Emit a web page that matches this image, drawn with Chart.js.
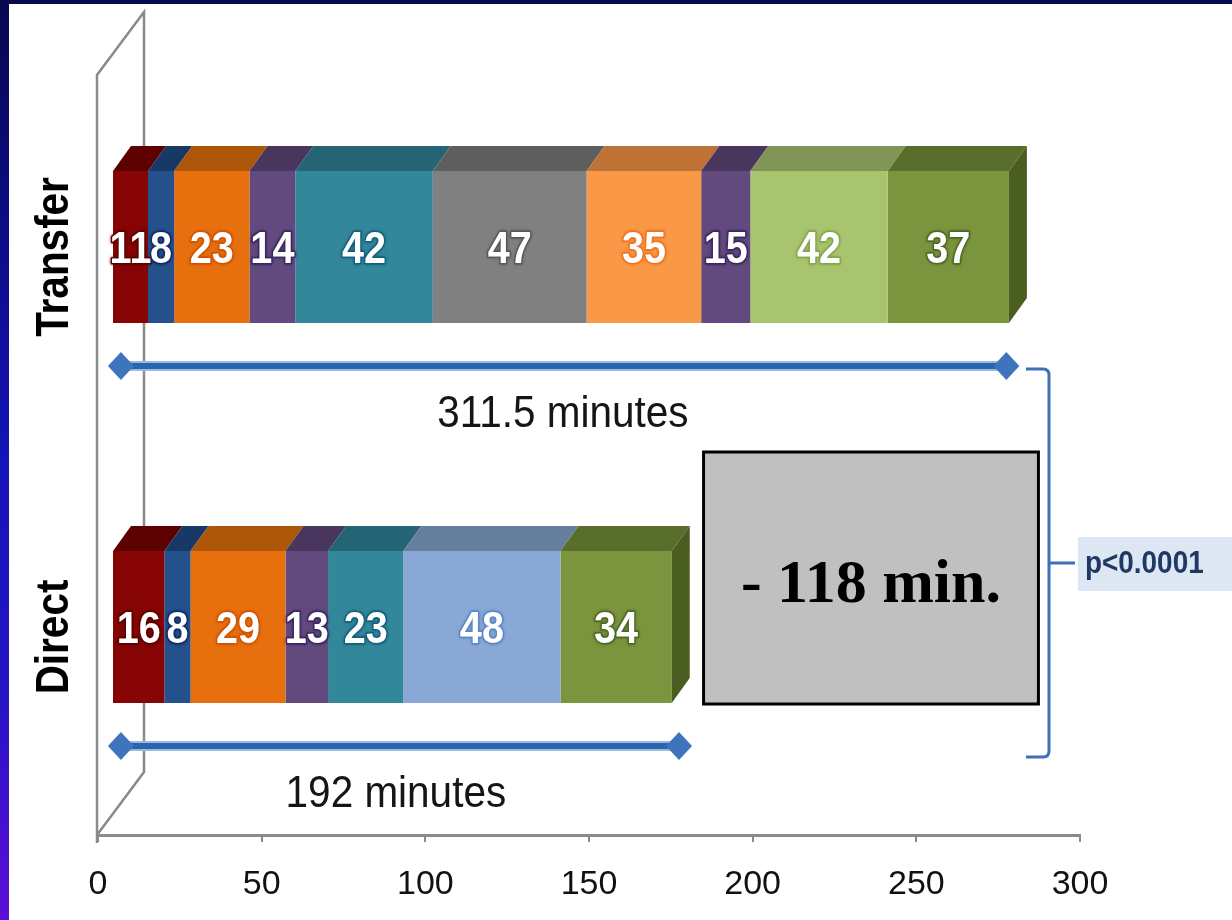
<!DOCTYPE html>
<html>
<head>
<meta charset="utf-8">
<script src="https://cdn.jsdelivr.net/npm/chart.js@4"></script>
<style>
html, body { margin: 0; padding: 0; background: #ffffff; }
canvas { display: block; }
</style>
</head>
<body>
<canvas id="c" width="1232" height="920"></canvas>
<script>
// Door-to-treatment time per stage (minutes)
const categories = ['Transfer', 'Direct'];
const transferMinutes = [11, 8, 23, 14, 42, 47, 35, 15, 42, 37];
const directMinutes = [16, 8, 29, 13, 23, 48, 34];
const transferStageColors = ['red', 'navy', 'orange', 'purple', 'teal', 'gray', 'peach', 'purple', 'lime', 'olive'];
const directStageColors = ['red', 'navy', 'orange', 'purple', 'teal', 'sky', 'olive'];
const xTickValues = [0, 50, 100, 150, 200, 250, 300];
const totalLabels = ['311.5 minutes', '192 minutes'];
const totalArrowSpans = [[7, 277.5], [7, 177.5]];
const differenceLabel = '- 118 min.';
const pValueLabel = 'p<0.0001';

// front / top / side / halo shades for each stage colour
const palette = {
  red:    { front: '#860404', top: '#5c0000', side: '#4a0000', halo: '#5a0000' },
  navy:   { front: '#24508c', top: '#183966', side: '#122c50', halo: '#0c2c6a' },
  orange: { front: '#e76f0e', top: '#ad5608', side: '#8a4506', halo: '#d05400' },
  purple: { front: '#634a7e', top: '#48365e', side: '#3a2b4c', halo: '#3a2660' },
  teal:   { front: '#32879b', top: '#246474', side: '#1c4f5c', halo: '#14607a' },
  gray:   { front: '#808080', top: '#5e5e5e', side: '#4a4a4a', halo: '#585858' },
  peach:  { front: '#f99846', top: '#bf7236', side: '#9a5c2c', halo: '#ee7420' },
  lime:   { front: '#a8c46e', top: '#819556', side: '#687844', halo: '#86a64a' },
  olive:  { front: '#7a953d', top: '#5a6e2c', side: '#4b5e22', halo: '#4e6824' },
  sky:    { front: '#89a8d6', top: '#677f9f', side: '#536884', halo: '#5a86c8' }
};

const BAR_SHIFT = { x: 14, y: -18 };   // bars sit slightly inside the 3D wall
const DEPTH = { x: 18, y: -25 };       // depth of each bar block
const WALL = { x: 47, y: -63 };        // depth of the side wall
const SANS = '"Liberation Sans", Arial, sans-serif';
const SERIF = '"Liberation Serif", "Times New Roman", serif';

const stageCount = Math.max(transferMinutes.length, directMinutes.length);
const seriesByCategory = [transferMinutes, directMinutes];
const colorsByCategory = [transferStageColors, directStageColors];

const datasets = [];
for (let i = 0; i < stageCount; i++) {
  datasets.push({
    label: 'Stage ' + (i + 1),
    data: seriesByCategory.map(s => (i < s.length ? s[i] : null)),
    backgroundColor: colorsByCategory.map(c => (i < c.length ? palette[c[i]].front : 'transparent')),
    stageKeys: colorsByCategory.map(c => c[i]),
    borderWidth: 0,
    clip: false
  });
}

function condensedText(ctx, text, x, y, sx, rotation, halo) {
  ctx.save();
  ctx.translate(x, y);
  if (rotation) ctx.rotate(rotation);
  ctx.scale(sx, 1);
  if (halo) {
    ctx.save();
    ctx.strokeStyle = halo;
    ctx.lineWidth = 3;
    ctx.lineJoin = 'round';
    ctx.shadowColor = halo;
    ctx.shadowBlur = 3;
    ctx.strokeText(text, 0, 0);
    ctx.restore();
  }
  ctx.fillText(text, 0, 0);
  ctx.restore();
}

const framePlugin = {
  id: 'frame',
  beforeDraw(chart) {
    const ctx = chart.ctx;
    ctx.save();
    ctx.fillStyle = '#ffffff';
    ctx.fillRect(0, 0, chart.width, chart.height);
    ctx.fillStyle = '#070a4c';
    ctx.fillRect(0, 0, chart.width, 4);
    const g = ctx.createLinearGradient(0, 0, 0, chart.height);
    g.addColorStop(0, '#08084e');
    g.addColorStop(0.25, '#0c0c86');
    g.addColorStop(0.5, '#1414b8');
    g.addColorStop(0.75, '#2414c4');
    g.addColorStop(1, '#5c0ed6');
    ctx.fillStyle = g;
    ctx.fillRect(0, 0, 9, chart.height);
    ctx.restore();
  }
};

const bars3dPlugin = {
  id: 'bars3d',
  beforeDatasetsDraw(chart) {
    const ctx = chart.ctx;
    const a = chart.chartArea;
    // side wall of the 3D plot
    ctx.save();
    ctx.strokeStyle = '#8a8a8a';
    ctx.lineWidth = 2.5;
    ctx.beginPath();
    ctx.moveTo(a.left - 1, a.bottom + 8);
    ctx.lineTo(a.left - 1, a.top);
    ctx.lineTo(a.left - 1 + WALL.x, a.top + WALL.y);
    ctx.lineTo(a.left - 1 + WALL.x, a.bottom + WALL.y);
    ctx.lineTo(a.left - 1, a.bottom);
    ctx.stroke();
    ctx.restore();
    ctx.save();
    ctx.translate(BAR_SHIFT.x, BAR_SHIFT.y);
  },
  afterDatasetsDraw(chart) {
    const ctx = chart.ctx;
    const metas = chart.getSortedVisibleDatasetMetas();
    // last visible segment per category gets the right-hand face
    const lastIdx = categories.map((_, ci) => {
      let last = -1;
      chart.data.datasets.forEach((ds, di) => { if (ds.data[ci] != null) last = di; });
      return last;
    });
    metas.forEach(meta => {
      const ds = chart.data.datasets[meta.index];
      meta.data.forEach((el, ci) => {
        if (ds.data[ci] == null) return;
        const p = el.getProps(['x', 'y', 'base', 'height'], true);
        const col = palette[ds.stageKeys[ci]];
        const top = p.y - p.height / 2, bottom = p.y + p.height / 2;
        const x0 = Math.min(p.base, p.x), x1 = Math.max(p.base, p.x);
        ctx.fillStyle = col.top;
        ctx.beginPath();
        ctx.moveTo(x0, top);
        ctx.lineTo(x1, top);
        ctx.lineTo(x1 + DEPTH.x, top + DEPTH.y);
        ctx.lineTo(x0 + DEPTH.x, top + DEPTH.y);
        ctx.closePath();
        ctx.fill();
        if (meta.index === lastIdx[ci]) {
          ctx.fillStyle = col.side;
          ctx.beginPath();
          ctx.moveTo(x1, top);
          ctx.lineTo(x1 + DEPTH.x, top + DEPTH.y);
          ctx.lineTo(x1 + DEPTH.x, bottom + DEPTH.y);
          ctx.lineTo(x1, bottom);
          ctx.closePath();
          ctx.fill();
        }
      });
    });
    // value labels
    ctx.font = 'bold 45px ' + SANS;
    ctx.textAlign = 'center';
    ctx.textBaseline = 'middle';
    metas.forEach(meta => {
      const ds = chart.data.datasets[meta.index];
      meta.data.forEach((el, ci) => {
        const v = ds.data[ci];
        if (v == null) return;
        const p = el.getProps(['x', 'y', 'base'], true);
        const col = palette[ds.stageKeys[ci]];
        ctx.fillStyle = '#ffffff';
        condensedText(ctx, String(v), (p.base + p.x) / 2, p.y + 4, 0.88, 0, col.halo);
      });
    });
    ctx.restore();
  }
};

function drawArrow(ctx, x0, x1, y) {
  ctx.save();
  ctx.lineCap = 'butt';
  ctx.strokeStyle = '#9db8df';
  ctx.lineWidth = 10;
  ctx.beginPath(); ctx.moveTo(x0, y); ctx.lineTo(x1, y); ctx.stroke();
  ctx.strokeStyle = '#2a63b0';
  ctx.lineWidth = 6;
  ctx.beginPath(); ctx.moveTo(x0, y); ctx.lineTo(x1, y); ctx.stroke();
  ctx.fillStyle = '#3d74bd';
  [x0, x1].forEach(x => {
    ctx.beginPath();
    ctx.moveTo(x - 13, y);
    ctx.lineTo(x, y - 14);
    ctx.lineTo(x + 13, y);
    ctx.lineTo(x, y + 14);
    ctx.closePath();
    ctx.fill();
  });
  ctx.restore();
}

const annotationPlugin = {
  id: 'annotations',
  afterDraw(chart) {
    const ctx = chart.ctx;
    const xs = chart.scales.x, ys = chart.scales.y;
    // category labels along the wall
    ctx.save();
    ctx.fillStyle = '#000000';
    ctx.font = 'bold 46px ' + SANS;
    ctx.textAlign = 'center';
    ctx.textBaseline = 'middle';
    categories.forEach((c, i) => {
      condensedText(ctx, c, 55, ys.getPixelForValue(i) - 8, 0.88, -Math.PI / 2);
    });
    ctx.restore();

    // total duration arrows and captions
    const captionX = [142, 91];
    categories.forEach((c, i) => {
      const yc = ys.getPixelForValue(i);
      drawArrow(ctx, xs.getPixelForValue(totalArrowSpans[i][0]), xs.getPixelForValue(totalArrowSpans[i][1]), yc + 101);
      ctx.save();
      ctx.fillStyle = '#151515';
      ctx.font = '44px ' + SANS;
      ctx.textAlign = 'center';
      ctx.textBaseline = 'middle';
      condensedText(ctx, totalLabels[i], xs.getPixelForValue(captionX[i]), yc + 150, 0.92);
      ctx.restore();
    });

    // difference box
    const bx0 = xs.getPixelForValue(185), bx1 = xs.getPixelForValue(287.3);
    const by0 = 452, by1 = 704;
    ctx.save();
    ctx.fillStyle = '#c0c0c0';
    ctx.fillRect(bx0, by0, bx1 - bx0, by1 - by0);
    ctx.strokeStyle = '#000000';
    ctx.lineWidth = 3;
    ctx.strokeRect(bx0, by0, bx1 - bx0, by1 - by0);
    ctx.fillStyle = '#000000';
    ctx.font = 'bold 62px ' + SERIF;
    ctx.textAlign = 'center';
    ctx.textBaseline = 'alphabetic';
    ctx.fillText(differenceLabel, (bx0 + bx1) / 2, 602);
    ctx.restore();

    // bracket linking the two totals
    const t = ys.getPixelForValue(0) + 104, b = ys.getPixelForValue(1) + 112, bx = 1049;
    ctx.save();
    ctx.strokeStyle = '#3f6fb6';
    ctx.lineWidth = 3;
    ctx.beginPath();
    ctx.moveTo(1026, t);
    ctx.lineTo(bx - 6, t);
    ctx.quadraticCurveTo(bx, t, bx, t + 6);
    ctx.lineTo(bx, b - 6);
    ctx.quadraticCurveTo(bx, b, bx - 6, b);
    ctx.lineTo(1026, b);
    ctx.moveTo(bx, (t + b) / 2);
    ctx.lineTo(1075, (t + b) / 2);
    ctx.stroke();
    // p-value tag
    const my = (t + b) / 2;
    ctx.fillStyle = '#dde7f3';
    ctx.fillRect(1078, my - 26, 170, 54);
    ctx.fillStyle = '#1f3864';
    ctx.font = 'bold 31px ' + SANS;
    ctx.textAlign = 'left';
    ctx.textBaseline = 'middle';
    ctx.save();
    ctx.translate(1085, my + 1);
    ctx.scale(0.9, 1);
    ctx.fillText(pValueLabel, 0, 0);
    ctx.restore();
    ctx.restore();
  }
};

new Chart(document.getElementById('c'), {
  type: 'bar',
  data: { labels: categories, datasets },
  options: {
    responsive: false,
    animation: false,
    indexAxis: 'y',
    layout: { padding: { left: 98, right: 152, top: 75, bottom: 0 } },
    plugins: { legend: { display: false }, tooltip: { enabled: false } },
    datasets: { bar: { barPercentage: 0.4, categoryPercentage: 1 } },
    scales: {
      x: {
        stacked: true,
        min: 0,
        max: 300,
        afterBuildTicks(scale) { scale.ticks = xTickValues.map(v => ({ value: v })); },
        afterFit(scale) { scale.height = 85; },
        grid: { drawOnChartArea: false, drawTicks: true, tickLength: 7, color: '#8a8a8a', lineWidth: 2 },
        border: { display: true, color: '#8a8a8a', width: 3 },
        ticks: { padding: 22, color: '#111111', font: { family: SANS, size: 34 } }
      },
      y: {
        stacked: true,
        display: false
      }
    }
  },
  plugins: [framePlugin, bars3dPlugin, annotationPlugin]
});
</script>
</body>
</html>
